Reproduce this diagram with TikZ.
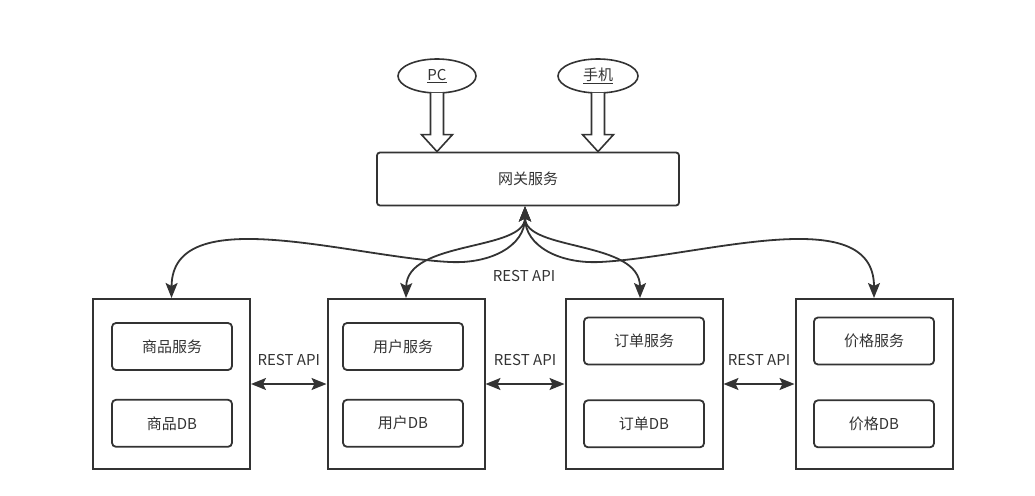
\documentclass[tikz,border=0pt]{standalone}
\usepackage{fontspec}
\setmainfont{Noto Sans CJK SC}
\usepackage{xcolor}
\usepackage{tikz}
\usetikzlibrary{arrows.meta,positioning,shapes.geometric,calc}

\begin{document}
\begin{tikzpicture}[
    x=1pt, y=-1pt,
    font=\fontsize{15}{18}\selectfont,
    every node/.style={text=black!80},
    link/.style={{Stealth[length=15pt,width=12pt,inset=3pt]}-{Stealth[length=15pt,width=12pt,inset=3pt]},
        line width=1.8pt, draw=black!80},
    hollow/.style={line width=1.6pt, draw=black!80, fill=white, line join=miter},
    client/.style={ellipse, draw=black!80, line width=1.6pt, minimum height=34pt},
    gate/.style={draw=black!80, line width=1.8pt, rounded corners=3pt,
        minimum width=302pt, minimum height=53pt},
    service/.style={draw=black!80, line width=2pt, minimum width=157pt, minimum height=170pt},
    part/.style={draw=black!80, line width=1.8pt, rounded corners=4pt,
        minimum width=120pt, minimum height=47pt}
]
\useasboundingbox (0,0) rectangle (1035,495);
\node[client, minimum width=78pt] (pc) at (437,76) {\underline{PC}};
\node[client, minimum width=80pt] (phone) at (598,76) {\underline{手机}};
\node[gate] (gw) at (528,179) {网关服务};
\node[service] (goods) at (171.5,384) {};
\node[service] (user) at (406,384) {};
\node[service] (order) at (644,384) {};
\node[service] (price) at (874,384) {};
\node[part] (goodsSvc) at (172,346.5) {商品服务};
\node[part, below=28pt of goodsSvc] (goodsDB) {商品DB};
\node[part] (userSvc) at (403,346.5) {用户服务};
\node[part, below=28pt of userSvc] (userDB) {用户DB};
\node[part] (orderSvc) at (644,341) {订单服务};
\node[part, below=34pt of orderSvc] (orderDB) {订单DB};
\node[part] (priceSvc) at (874,341) {价格服务};
\node[part, below=34pt of priceSvc] (priceDB) {价格DB};
\node (api) at (524,276) {REST API};
% clients into the gateway
\draw[hollow] ($(pc.south)+(-6.5,-1)$) -- ($(pc.south |- gw.north)+(-6.5,-17)$)
    -- ($(pc.south |- gw.north)+(-15.5,-17)$) -- (pc.south |- gw.north)
    -- ($(pc.south |- gw.north)+(15.5,-17)$) -- ($(pc.south |- gw.north)+(6.5,-17)$)
    -- ($(pc.south)+(6.5,-1)$);
\draw[hollow] ($(phone.south)+(-6.5,-1)$) -- ($(phone.south |- gw.north)+(-6.5,-17)$)
    -- ($(phone.south |- gw.north)+(-15.5,-17)$) -- (phone.south |- gw.north)
    -- ($(phone.south |- gw.north)+(15.5,-17)$) -- ($(phone.south |- gw.north)+(6.5,-17)$)
    -- ($(phone.south)+(6.5,-1)$);
% gateway to services
\draw[link] ([xshift=-3pt]gw.south) .. controls +(0,40) and (490,264) .. (450,262)
    .. controls (350,257) and (172,200) .. (goods.north);
\draw[link] ([xshift=-3pt]gw.south) .. controls +(0,45) and (407,240) .. (user.north);
\draw[link] ([xshift=-3pt]gw.south) .. controls +(0,45) and (640,240) .. ([xshift=-4pt]order.north);
\draw[link] ([xshift=-3pt]gw.south) .. controls +(0,40) and (560,264) .. (600,262)
    .. controls (700,257) and (874,200) .. (price.north);
% between services
\draw[link] (goods) -- (user) node[midway, above=14pt] {REST API};
\draw[link] (user) -- (order) node[midway, above=14pt] {REST API};
\draw[link] (order) -- (price) node[midway, above=14pt] {REST API};
\end{tikzpicture}
\end{document}
